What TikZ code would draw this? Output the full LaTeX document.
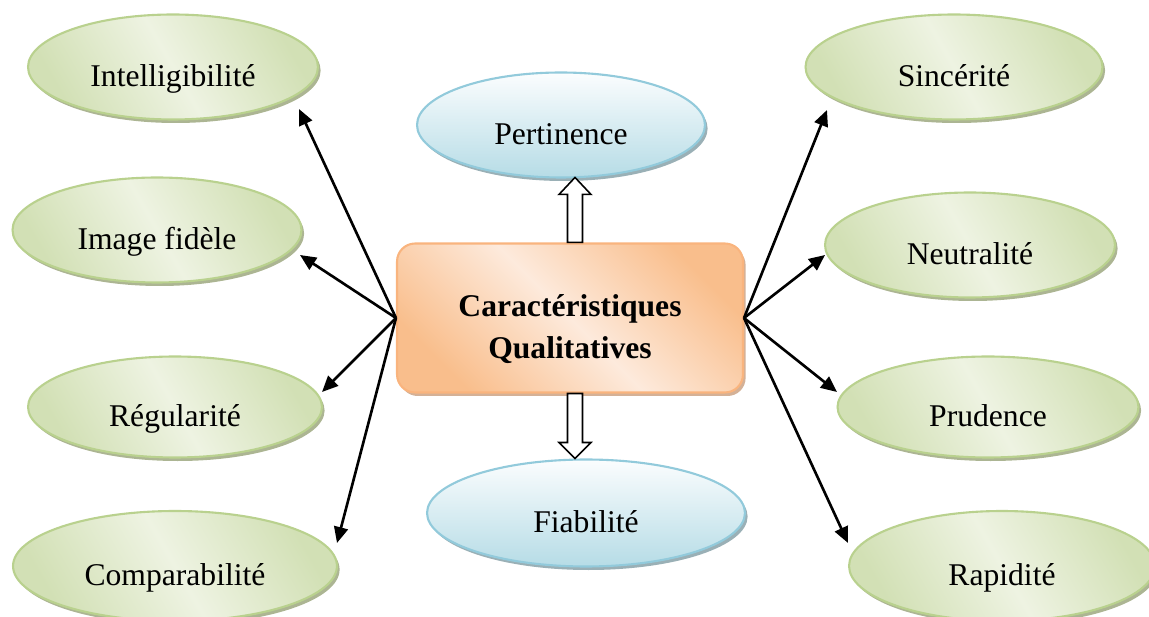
\documentclass[tikz,border=0pt]{standalone}
\usepackage{fontspec}
\setmainfont{Liberation Serif}
\usetikzlibrary{shapes.geometric,shadows,calc,arrows.meta}
\definecolor{gD}{HTML}{D2E0B5}
\definecolor{gL}{HTML}{EEF3E2}
\definecolor{gB}{HTML}{B9D18E}
\definecolor{gS}{HTML}{A3AD87}
\definecolor{bT}{HTML}{FBFDFE}
\definecolor{bB}{HTML}{B6DCE6}
\definecolor{bBr}{HTML}{92CADB}
\definecolor{bS}{HTML}{8FA7AE}
\definecolor{oD}{HTML}{F9BE8C}
\definecolor{oL}{HTML}{FDEADC}
\definecolor{oB}{HTML}{F9B47E}
\definecolor{oS}{HTML}{CFA98C}
\tikzset{
  base/.style={font=\fontsize{18}{24}\selectfont, text height=25pt, text depth=3pt, inner sep=0pt},
  greenell/.style={base, ellipse, draw=gB, line width=1.2pt,
    top color=gD, bottom color=gD, middle color=gL, shading angle=-60,
    drop shadow={shadow xshift=1.5pt, shadow yshift=-2pt, fill=gS, opacity=0.9}},
  blueell/.style={base, ellipse, draw=bBr, line width=1.2pt,
    top color=bT, bottom color=bB,
    drop shadow={shadow xshift=1.5pt, shadow yshift=-2pt, fill=bS, opacity=0.9}},
  centerbox/.style={rectangle, rounded corners=0.36cm, draw=oB, line width=1.2pt,
    top color=oD, bottom color=oD, middle color=oL, shading angle=-45,
    drop shadow={shadow xshift=1.5pt, shadow yshift=-2pt, fill=oS, opacity=0.9}},
  boxtext/.style={align=center, inner sep=0pt, font=\fontsize{18}{24}\selectfont\bfseries},
  arr/.style={line width=1.5pt, -{Triangle[length=0.32cm,width=0.28cm]}},
  hollow/.style={draw=black, line width=0.9pt, fill=white, line join=miter}
}
\begin{document}
\begin{tikzpicture}[x=0.02cm,y=-0.02cm]
\useasboundingbox (0,0) rectangle (1149,617);

% left column
\node[greenell, minimum width=5.8cm, minimum height=2.1cm] (intel) at (173,67) {Intelligibilité};
\node[greenell, minimum width=5.78cm, minimum height=2.1cm] (image) at (157,230) {Image fidèle};
\node[greenell, minimum width=5.88cm, minimum height=2.02cm] (regul) at (175,407) {Régularité};
\node[greenell, minimum width=6.48cm, minimum height=2.2cm] (compa) at (175,566) {Comparabilité};

% right column
\node[greenell, minimum width=5.94cm, minimum height=2.1cm] (sinc) at (954,67) {Sincérité};
\node[greenell, minimum width=5.8cm, minimum height=2.1cm] (neutr) at (970,245) {Neutralité};
\node[greenell, minimum width=6.02cm, minimum height=2.02cm] (prud) at (988,407) {Prudence};
\node[greenell, minimum width=6.12cm, minimum height=2.2cm] (rapid) at (1002,566) {Rapidité};

% centre column
\node[blueell, minimum width=5.76cm, minimum height=2.1cm] (pert) at (561,125) {Pertinence};
\node[blueell, minimum width=6.36cm, minimum height=2.14cm] (fiab) at (586,513) {Fiabilité};
\node[centerbox, minimum width=6.92cm, minimum height=2.98cm] (box) at (570,318) {};
\node[boxtext] (boxlabel) at ($(box)+(0,11)$) {Caractéristiques\\Qualitatives};

% connectors
\draw[arr] (box.west) -- ($(intel)+(126,42)$);
\draw[arr] (box.west) -- ($(image)+(143,25)$);
\draw[arr] (box.west) -- ($(regul)+(147,-15)$);
\draw[arr] (box.west) -- ($(compa)+(162,-23)$);
\draw[arr] (box.east) -- ($(sinc)+(-127,43)$);
\draw[arr] (box.east) -- ($(neutr)+(-145,10)$);
\draw[arr] (box.east) -- ($(prud)+(-151,-15)$);
\draw[arr] (box.east) -- ($(rapid)+(-154,-23)$);

% hollow block arrows
\draw[hollow] ($(box.north)+(-2.5,0)$) -- ++(0,-48) -- ++(-8.5,0) -- ++(16,-17)
  -- ++(16,17) -- ++(-8.5,0) -- ++(0,48) -- cycle;
\draw[hollow] ($(box.south)+(-2.5,0)$) -- ++(0,49) -- ++(-8.5,0) -- ++(16,16)
  -- ++(16,-16) -- ++(-8.5,0) -- ++(0,-49) -- cycle;
\end{tikzpicture}
\end{document}
